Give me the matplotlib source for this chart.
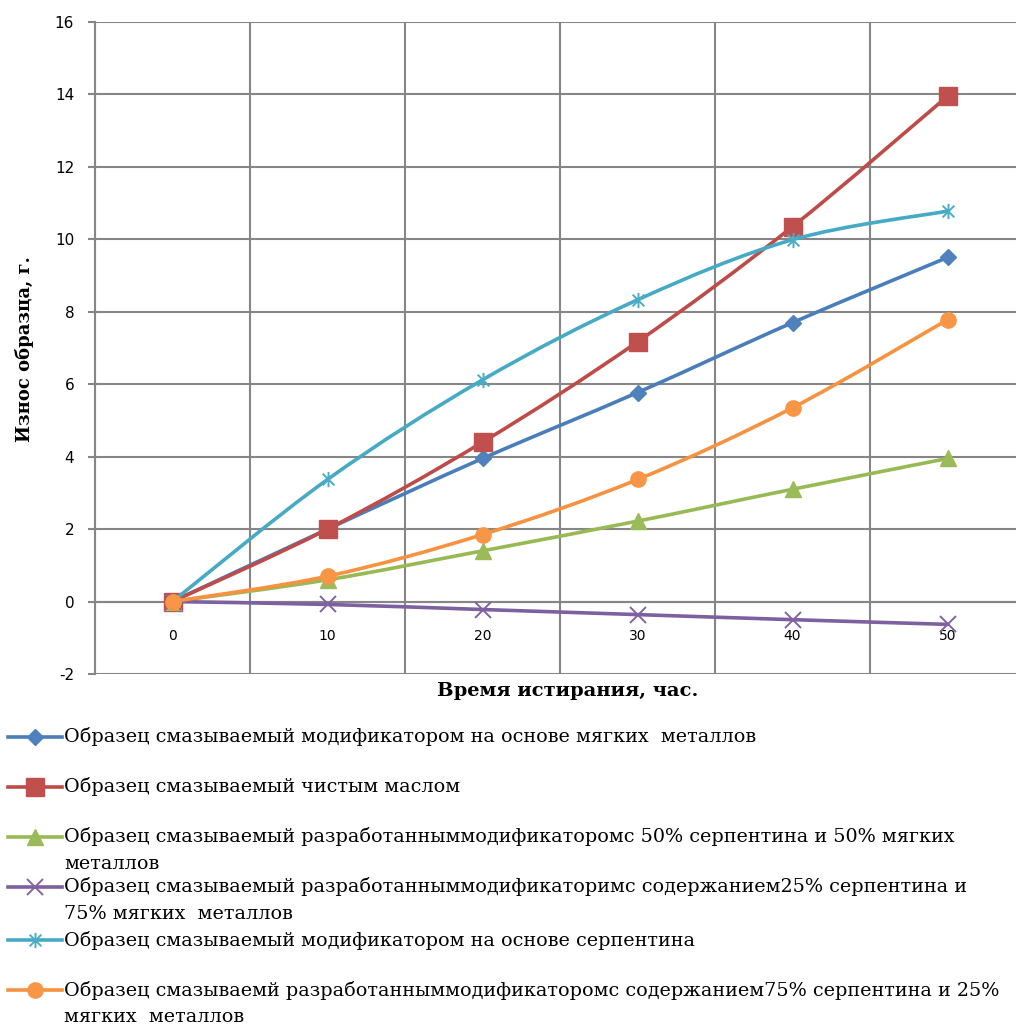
# ================= IMPORT LIBRARIES =================
import numpy as np
import matplotlib
matplotlib.use("Agg")
import matplotlib.pyplot as plt
from matplotlib.path import Path
from matplotlib.patches import PathPatch
from matplotlib.lines import Line2D

# ================= DATA =================
hours = ["0", "10", "20", "30", "40", "50"]

soft_metals = [0.0, 2.0, 3.95, 5.77, 7.7, 9.5]
pure_oil = [0.0, 2.0, 4.4, 7.17, 10.35, 13.95]
serp50_metal50 = [0.0, 0.6, 1.4, 2.22, 3.1, 3.95]
serp25_metal75 = [0.0, -0.08, -0.22, -0.36, -0.5, -0.63]
serpentine = [0.0, 3.37, 6.12, 8.33, 9.99, 10.78]
serp75_metal25 = [0.0, 0.7, 1.85, 3.37, 5.35, 7.78]

labels = [
    "Образец смазываемый модификатором на основе мягких  металлов",
    "Образец смазываемый чистым маслом",
    "Образец смазываемый разработанныммодификаторомс 50% серпентина и 50% мягких\nметаллов",
    "Образец смазываемый разработанныммодификаторимс содержанием25% серпентина и\n75% мягких  металлов",
    "Образец смазываемый модификатором на основе серпентина",
    "Образец смазываемй разработанныммодификаторомс содержанием75% серпентина и 25%\nмягких  металлов",
]

y_ticks = [-2, 0, 2, 4, 6, 8, 10, 12, 14, 16]

# ================= STYLE =================
line_colors = ["#4A7EBB", "#BE4B48", "#98B954", "#7D60A0", "#46AAC5", "#F69240"]
marker_colors = ["#4F81BD", "#C0504D", "#9BBB59", "#8064A2", "#4BACC6", "#F79646"]

# excel style star: x with a vertical bar
star = Path(
    [(-1, -1), (1, 1), (-1, 1), (1, -1), (0, -1.3), (0, 1.3)],
    [Path.MOVETO, Path.LINETO, Path.MOVETO, Path.LINETO, Path.MOVETO, Path.LINETO],
)
markers = [
    dict(marker="D", ms=8),
    dict(marker="s", ms=13),
    dict(marker="^", ms=11),
    dict(marker="x", ms=11, mew=1.4),
    dict(marker=star, ms=11, mew=1.4),
    dict(marker="o", ms=11),
]

grid_color = "#868686"
W, H = 1016, 1026

series = [soft_metals, pure_oil, serp50_metal50, serp25_metal75, serpentine, serp75_metal25]


def smooth_path(xs, ys):
    # bezier segments through the points (like excel "smoothed line")
    pts = np.column_stack([xs, ys]).astype(float)
    ext = np.vstack([pts[0], pts, pts[-1]])
    verts = [pts[0]]
    codes = [Path.MOVETO]
    for i in range(len(pts) - 1):
        p0, p1, p2, p3 = ext[i], ext[i + 1], ext[i + 2], ext[i + 3]
        c1 = p1 + (p2 - p0) / 6.0
        c2 = p2 - (p3 - p1) / 6.0
        verts += [c1, c2, p2]
        codes += [Path.CURVE4] * 3
    return Path(verts, codes)


# ================= FIGURE =================
fig = plt.figure(figsize=(W / 100, H / 100), dpi=100)
ax = fig.add_axes([95 / W, 1 - 674 / H, 930 / W, 652 / H])

x = np.arange(len(hours))
for i, vals in enumerate(series):
    patch = PathPatch(smooth_path(x, vals), fill=False, edgecolor=line_colors[i],
                      lw=2.6, capstyle="round", joinstyle="round", zorder=3 + i)
    ax.add_patch(patch)
    m = markers[i]
    ax.plot(x, vals, ls="none", marker=m["marker"], ms=m["ms"], mew=m.get("mew", 1),
            color=marker_colors[i], mec=marker_colors[i], zorder=3 + i)

ax.set_xlim(-0.5, len(hours) - 0.5)
ax.set_ylim(-2, 16)

# ================= AXES & GRID =================
ax.set_yticks(y_ticks)
ax.set_yticklabels([str(v) for v in y_ticks], fontsize=11, family="DejaVu Sans")
ax.set_xticks(x)
ax.set_xticklabels(hours, fontsize=11, family="DejaVu Sans")
ax.set_xticks(np.arange(len(hours) + 1) - 0.5, minor=True)

ax.tick_params(axis="y", length=5, width=1.5, color=grid_color, pad=10)
ax.tick_params(axis="x", which="major", length=0, pad=20)
ax.tick_params(axis="x", which="minor", length=0)

ax.grid(True, axis="y", which="major", color=grid_color, lw=1.5, zorder=1)
ax.grid(True, axis="x", which="minor", color=grid_color, lw=1.5, zorder=1)
ax.grid(False, axis="x", which="major")

for s in ["top", "right"]:
    ax.spines[s].set_visible(False)
ax.spines["left"].set_color(grid_color)
ax.spines["left"].set_linewidth(1.5)
ax.spines["bottom"].set_position(("data", 0))
ax.spines["bottom"].set_color(grid_color)
ax.spines["bottom"].set_linewidth(1.5)
ax.set_axisbelow(True)

# ================= AXIS TITLES =================
fig.text(568 / W, 1 - 691 / H, "Время истирания, час.", ha="center", va="center",
         fontsize=14, fontweight="bold", family="DejaVu Serif")
fig.text(25 / W, 1 - 349 / H, "Износ образца, г.", ha="center", va="center",
         rotation=90, fontsize=13, fontweight="bold", family="DejaVu Serif")

# ================= LEGEND =================
entry_y = [737, 787, 837, 887, 940, 990]
for i, lab in enumerate(labels):
    y0 = entry_y[i]
    yf = 1 - y0 / H
    fig.add_artist(Line2D([8 / W, 62 / W], [yf, yf], color=line_colors[i], lw=2.6,
                          transform=fig.transFigure))
    m = markers[i]
    fig.add_artist(Line2D([35 / W], [yf], ls="none", marker=m["marker"], ms=m["ms"],
                          mew=m.get("mew", 1), color=marker_colors[i],
                          mec=marker_colors[i], transform=fig.transFigure))
    for k, part in enumerate(lab.split("\n")):
        fig.text(64 / W, 1 - (y0 + k * 27) / H, part, ha="left", va="center",
                 fontsize=13.8, family="DejaVu Serif")

plt.savefig("out.png", dpi=100)
